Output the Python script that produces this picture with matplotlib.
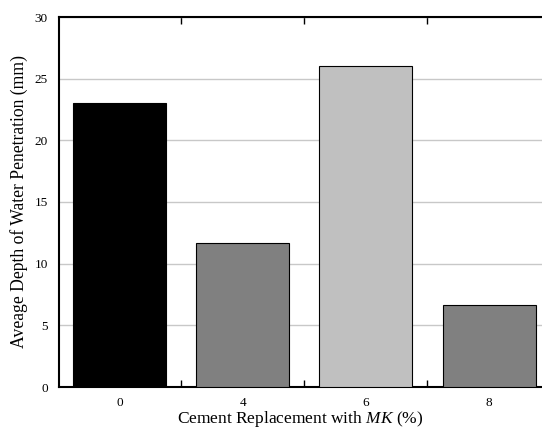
import matplotlib
matplotlib.use("Agg")
import matplotlib.pyplot as plt
from matplotlib.ticker import FixedLocator, NullFormatter

categories = ["0", "4", "6", "8"]
values = [23.0, 11.65, 26.0, 6.65]
colors = ["#000000", "#808080", "#c0c0c0", "#808080"]
yticks = [0, 5, 10, 15, 20, 25, 30]

plt.rcParams['font.family'] = ['Liberation Serif', 'DejaVu Serif']
plt.rcParams['mathtext.fontset'] = 'custom'
plt.rcParams['mathtext.rm'] = 'Liberation Serif'
plt.rcParams['mathtext.it'] = 'Liberation Serif:italic'

fig = plt.figure(figsize=(5.42, 4.30), dpi=100)
ax = fig.add_axes([59/542, (430-387)/430, (542-59)/542, (387-17)/430])

x = list(range(len(categories)))
ax.bar(x, values, width=0.755, color=colors, edgecolor="black", linewidth=0.8, zorder=3)

ax.set_xlim(-0.49, 3.43)
ax.set_ylim(0, 30)
ax.set_yticks(yticks)
ax.yaxis.grid(True, color="#c8c8c8", linewidth=1.0, zorder=0)
ax.tick_params(axis="y", length=0, pad=8, labelsize=9.5)

ax.set_xticks(x)
ax.set_xticklabels(categories)
ax.tick_params(axis="x", which="major", length=0, pad=7.5, labelsize=9.5)
ax.xaxis.set_minor_locator(FixedLocator([0.5, 1.5, 2.5]))
ax.xaxis.set_minor_formatter(NullFormatter())
ax.tick_params(axis="x", which="minor", direction="in", length=5, width=1, top=True, bottom=True)

for s in ["left", "bottom", "top"]:
    ax.spines[s].set_linewidth(1.5)
ax.spines["right"].set_visible(False)

ax.set_xlabel("Cement Replacement with $\\mathit{MK}$ (%)", fontsize=12.5, labelpad=-0.5)
ax.set_ylabel("Aveage Depth of Water Penetration (mm)", fontsize=12.7, labelpad=5)

fig.savefig("out.png", dpi=100)
